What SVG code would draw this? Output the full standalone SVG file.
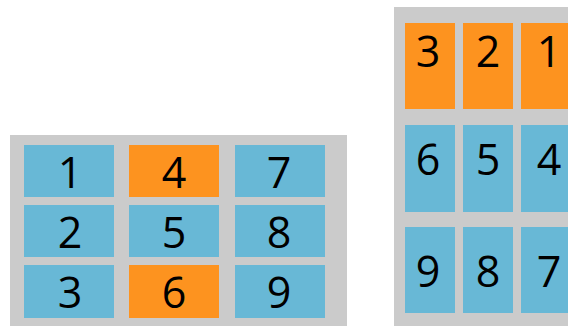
<svg xmlns="http://www.w3.org/2000/svg" width="568" height="326" viewBox="0 0 568 326">
<style>
.bg{fill:#cbcbcb}
.b{fill:#68b8d6}
.o{fill:#fd931f}
text{font-family:"Open Sans","Noto Sans","Liberation Sans",sans-serif;font-size:43px;fill:#000;text-anchor:middle}
</style>
<rect width="568" height="326" fill="#fff"/>
<g id="left-grid">
<rect class="bg" x="10" y="135" width="337" height="191"/>
<g id="l1"><rect class="b" x="24" y="145" width="90" height="52"/><text x="70" y="188">1</text></g>
<g id="l4"><rect class="o" x="129" y="145" width="90" height="52"/><text x="174" y="188">4</text></g>
<g id="l7"><rect class="b" x="235" y="145" width="90" height="52"/><text x="279" y="188">7</text></g>
<g id="l2"><rect class="b" x="24" y="205" width="90" height="52"/><text x="70" y="248">2</text></g>
<g id="l5"><rect class="b" x="129" y="205" width="90" height="52"/><text x="174" y="248">5</text></g>
<g id="l8"><rect class="b" x="235" y="205" width="90" height="52"/><text x="279" y="248">8</text></g>
<g id="l3"><rect class="b" x="24" y="265" width="90" height="53"/><text x="70" y="308">3</text></g>
<g id="l6"><rect class="o" x="129" y="265" width="90" height="53"/><text x="174" y="308">6</text></g>
<g id="l9"><rect class="b" x="235" y="265" width="90" height="53"/><text x="279" y="308">9</text></g>
</g>
<g id="right-grid">
<rect class="bg" x="394" y="7" width="174" height="319"/>
<g id="r3"><rect class="o" x="405" y="23" width="50" height="86"/><text x="428" y="67">3</text></g>
<g id="r2"><rect class="o" x="463" y="23" width="50" height="86"/><text x="488" y="67">2</text></g>
<g id="r1"><rect class="o" x="521" y="23" width="50" height="86"/><text x="549" y="67">1</text></g>
<g id="r6"><rect class="b" x="405" y="125" width="50" height="87"/><text x="428" y="175">6</text></g>
<g id="r5"><rect class="b" x="463" y="125" width="50" height="87"/><text x="488" y="175">5</text></g>
<g id="r4"><rect class="b" x="521" y="125" width="50" height="87"/><text x="549" y="175">4</text></g>
<g id="r9"><rect class="b" x="405" y="227" width="50" height="86"/><text x="428" y="287">9</text></g>
<g id="r8"><rect class="b" x="463" y="227" width="50" height="86"/><text x="488" y="287">8</text></g>
<g id="r7"><rect class="b" x="521" y="227" width="50" height="86"/><text x="549" y="287">7</text></g>
</g>
</svg>
